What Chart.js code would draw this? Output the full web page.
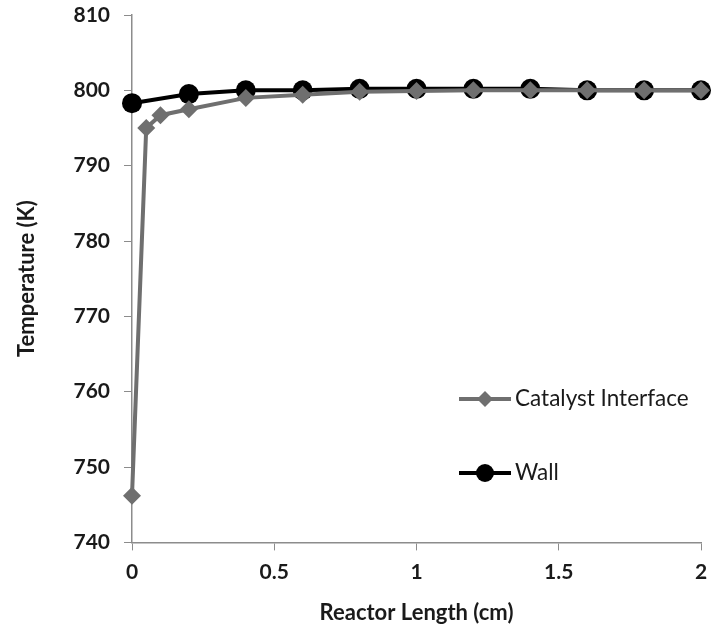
<!DOCTYPE html>
<html>
<head>
<meta charset="utf-8">
<script src="https://cdn.jsdelivr.net/npm/chart.js@4.4.1/dist/chart.umd.min.js"></script>
<style>
  html, body { margin: 0; padding: 0; background: #ffffff; }
  #wrap { width: 711px; height: 630px; }
</style>
</head>
<body>
<div id="wrap"><canvas id="tempChart" width="711" height="630"></canvas></div>
<script>

// ================= DATA =================

const catalystX = [0, 0.05, 0.1, 0.2, 0.4, 0.6, 0.8, 1.0, 1.2, 1.4, 1.6, 1.8, 2.0];
const catalystT = [746.2, 795.0, 796.7, 797.5, 799.0, 799.4, 799.8, 799.9, 800.0, 800.0, 800.0, 800.0, 800.0];

const wallX = [0, 0.2, 0.4, 0.6, 0.8, 1.0, 1.2, 1.4, 1.6, 1.8, 2.0];
const wallT = [798.3, 799.5, 800.0, 800.0, 800.2, 800.2, 800.2, 800.2, 800.0, 800.0, 800.0];

const xTicks = [0, 0.5, 1, 1.5, 2];
const yTicks = [740, 750, 760, 770, 780, 790, 800, 810];

const seriesNames = ["Catalyst Interface", "Wall"];

const FONT = "Lato, 'Open Sans', 'Liberation Sans', sans-serif";
const AXIS_GREY = "#8c8c8c";


function toPoints(xs, ys){
  return xs.map((x, i) => ({ x: x, y: ys[i] }));
}


// legend drawn inside the plot, lower right
const insideLegend = {
  id: "insideLegend",
  afterDraw(chart){
    const ctx = chart.ctx;
    const rows = [399, 473];
    chart.data.datasets.forEach((ds, i) => {
      const y = rows[i];
      const x0 = 459, x1 = 511, xm = 485;
      ctx.save();
      ctx.strokeStyle = ds.borderColor;
      ctx.lineWidth = ds.borderWidth;
      ctx.beginPath();
      ctx.moveTo(x0, y);
      ctx.lineTo(x1, y);
      ctx.stroke();
      ctx.fillStyle = ds.pointBackgroundColor;
      ctx.beginPath();
      if (ds.pointStyle === "rectRot"){
        const r = 8;
        ctx.moveTo(xm, y - r);
        ctx.lineTo(xm + r, y);
        ctx.lineTo(xm, y + r);
        ctx.lineTo(xm - r, y);
        ctx.closePath();
      } else {
        ctx.arc(xm, y, 9, 0, Math.PI * 2);
      }
      ctx.fill();
      ctx.fillStyle = "#1a1a1a";
      ctx.font = "22.5px " + FONT;
      ctx.textBaseline = "middle";
      ctx.textAlign = "left";
      ctx.fillText(ds.label, 515, y);
      ctx.restore();
    });
  }
};


new Chart(document.getElementById("tempChart"), {

  type: "line",

  data: {
    datasets: [
      {
        label: seriesNames[0],
        data: toPoints(catalystX, catalystT),
        borderColor: "#6f6f6f",
        backgroundColor: "#6f6f6f",
        pointBackgroundColor: "#6f6f6f",
        pointBorderColor: "#6f6f6f",
        borderWidth: 4,
        pointStyle: "rectRot",
        pointRadius: 9,
        pointBorderWidth: 0,
        tension: 0,
        clip: false
      },
      {
        label: seriesNames[1],
        data: toPoints(wallX, wallT),
        borderColor: "#000000",
        backgroundColor: "#000000",
        pointBackgroundColor: "#000000",
        pointBorderColor: "#000000",
        borderWidth: 4,
        pointStyle: "circle",
        pointRadius: 10,
        pointBorderWidth: 0,
        tension: 0,
        clip: false
      }
    ]
  },

  options: {
    responsive: false,
    animation: false,
    layout: {
      padding: { left: 8, right: 9, top: 15, bottom: 4 }
    },
    plugins: {
      legend: { display: false },
      tooltip: { enabled: false }
    },
    scales: {
      x: {
        type: "linear",
        min: 0,
        max: 2,
        afterBuildTicks(scale){
          scale.ticks = xTicks.map(v => ({ value: v }));
        },
        afterFit(scale){
          scale.paddingLeft = 0;
          scale.paddingRight = 0;
        },
        grid: {
          display: true,
          drawOnChartArea: false,
          drawTicks: true,
          tickLength: 8,
          color: AXIS_GREY,
          lineWidth: 1
        },
        border: { display: true, color: AXIS_GREY, width: 1.5 },
        ticks: {
          color: "#1a1a1a",
          padding: 9,
          maxRotation: 0,
          callback: v => String(v),
          font: { family: FONT, size: 21, weight: "bold" }
        },
        title: {
          display: true,
          text: "Reactor Length (cm)",
          color: "#1a1a1a",
          padding: { top: 6, bottom: 0 },
          font: { family: FONT, size: 22, weight: "bold" }
        }
      },
      y: {
        type: "linear",
        min: 740,
        max: 810,
        afterBuildTicks(scale){
          scale.ticks = yTicks.map(v => ({ value: v }));
        },
        afterFit(scale){
          scale.width = 124;
          scale.paddingTop = 0;
          scale.paddingBottom = 0;
        },
        grid: {
          display: true,
          drawOnChartArea: false,
          drawTicks: true,
          tickLength: 8,
          color: AXIS_GREY,
          lineWidth: 1
        },
        border: { display: true, color: AXIS_GREY, width: 1.5 },
        ticks: {
          color: "#1a1a1a",
          padding: 14,
          font: { family: FONT, size: 21, weight: "bold" }
        },
        title: {
          display: true,
          text: "Temperature (K)",
          color: "#1a1a1a",
          padding: { top: 6, bottom: 0 },
          font: { family: FONT, size: 22, weight: "bold" }
        }
      }
    }
  },

  plugins: [insideLegend]

});

</script>
</body>
</html>
